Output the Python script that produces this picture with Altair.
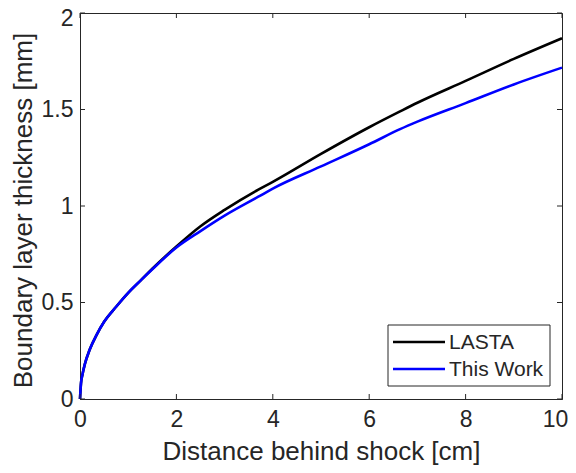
import altair as alt
import pandas as pd

# ---- data ----
x_work = [0, 0.02, 0.05, 0.1, 0.2, 0.35, 0.5, 0.75, 1.0, 1.25, 1.5, 2.0, 2.5, 3.0, 3.7, 4.0, 5.0, 6.0, 6.64, 7.0, 8.0, 9.0, 10.0]
y_work = [0, 0.08, 0.125, 0.18, 0.255, 0.335, 0.40, 0.478, 0.55, 0.612, 0.672, 0.785, 0.87, 0.95, 1.048, 1.09, 1.205, 1.32, 1.398, 1.437, 1.533, 1.630, 1.717]

x_lasta = [0, 0.02, 0.05, 0.1, 0.2, 0.35, 0.5, 0.75, 1.0, 1.25, 1.5, 2.0, 2.5, 3.0, 3.7, 4.0, 5.0, 6.0, 6.64, 7.0, 8.0, 9.0, 10.0]
y_lasta = [0, 0.08, 0.125, 0.18, 0.255, 0.335, 0.40, 0.478, 0.55, 0.612, 0.675, 0.79, 0.895, 0.98, 1.085, 1.125, 1.27, 1.408, 1.49, 1.535, 1.648, 1.762, 1.869]

series_names = ["LASTA", "This Work"]
series_colors = ["#000000", "#0000FF"]

x_ticks = [0, 2, 4, 6, 8, 10]
y_ticks = [0, 0.5, 1, 1.5, 2]

W, H = 482, 386
FONT = "Liberation Sans"
AX = "#262626"

df_lasta = pd.DataFrame({"x": x_lasta, "y": y_lasta})
df_work = pd.DataFrame({"x": x_work, "y": y_work})

xscale = alt.Scale(domain=[0, 10], nice=False, zero=False)
yscale = alt.Scale(domain=[0, 2], nice=False, zero=False)

xaxis = alt.Axis(values=x_ticks, title="Distance behind shock [cm]", grid=False, ticks=False, tickSize=0,
                 labelFontSize=23, labelFont=FONT, labelColor=AX, labelPadding=9,
                 labelOffset={"condition": {"test": "datum.value == 10", "value": -7}, "value": 0},
                 titleFontSize=26, titleFont=FONT, titleColor=AX, titleFontWeight="normal",
                 titleBaseline="alphabetic", titleY=60, titleX=W / 2,
                 domainColor=AX, labelFlush=False)
yaxis = alt.Axis(values=y_ticks, format="~g", title="Boundary layer thickness [mm]", grid=False, ticks=False, tickSize=0,
                 labelFontSize=23, labelFont=FONT, labelColor=AX, labelPadding=7,
                 labelOffset={"condition": {"test": "datum.value == 2", "value": 5}, "value": 0},
                 titleFontSize=26, titleFont=FONT, titleColor=AX, titleFontWeight="normal",
                 titleAngle=-90, titleBaseline="middle", titleX=-57, titleY=H / 2 + 4,
                 domainColor=AX, labelFlush=False)

line_lasta = alt.Chart(df_lasta).mark_line(color=series_colors[0], strokeWidth=2.6, interpolate="monotone").encode(
    x=alt.X("x:Q", scale=xscale, axis=xaxis),
    y=alt.Y("y:Q", scale=yscale, axis=yaxis),
)
line_work = alt.Chart(df_work).mark_line(color=series_colors[1], strokeWidth=2.6, interpolate="monotone").encode(
    x=alt.X("x:Q", scale=xscale),
    y=alt.Y("y:Q", scale=yscale),
)

# inward tick marks (MATLAB style) on all four sides
dfx = pd.DataFrame({"t": x_ticks})
dfy = pd.DataFrame({"t": y_ticks})
TL = 5
tick_b = alt.Chart(dfx).mark_rule(color=AX, strokeWidth=1).encode(
    x=alt.X("t:Q", scale=xscale), y=alt.value(H), y2=alt.value(H - TL))
tick_t = alt.Chart(dfx).mark_rule(color=AX, strokeWidth=1).encode(
    x=alt.X("t:Q", scale=xscale), y=alt.value(0), y2=alt.value(TL))
tick_l = alt.Chart(dfy).mark_rule(color=AX, strokeWidth=1).encode(
    y=alt.Y("t:Q", scale=yscale), x=alt.value(0), x2=alt.value(TL))
tick_r = alt.Chart(dfy).mark_rule(color=AX, strokeWidth=1).encode(
    y=alt.Y("t:Q", scale=yscale), x=alt.value(W), x2=alt.value(W - TL))

# legend box
LX0, LX1, LY0, LY1 = 308, 470, 312, 373
leg_box = alt.Chart(pd.DataFrame({"a": [0]})).mark_rect(fill="white", stroke=AX, strokeWidth=1).encode(
    x=alt.value(LX0), x2=alt.value(LX1), y=alt.value(LY0), y2=alt.value(LY1))
leg_layers = []
row_y = [329, 356]
for name, col, ry in zip(series_names, series_colors, row_y):
    d = pd.DataFrame({"name": [name]})
    leg_layers.append(alt.Chart(d).mark_rule(color=col, strokeWidth=2.6).encode(
        x=alt.value(313), x2=alt.value(365), y=alt.value(ry)))
    leg_layers.append(alt.Chart(d).mark_text(align="left", baseline="middle", font=FONT, fontSize=21, color=AX).encode(
        x=alt.value(369), y=alt.value(ry + 1), text="name:N"))

chart = alt.layer(
    line_lasta, line_work, tick_b, tick_t, tick_l, tick_r, leg_box, *leg_layers
).properties(
    width=W, height=H,
    autosize=alt.AutoSizeParams(type="none"),
    padding={"left": 72, "top": 5, "right": 6, "bottom": 66},
    background="white",
).configure_view(stroke=AX, strokeWidth=1)

chart.save("out.html", embed_options={"renderer": "svg", "actions": False})
